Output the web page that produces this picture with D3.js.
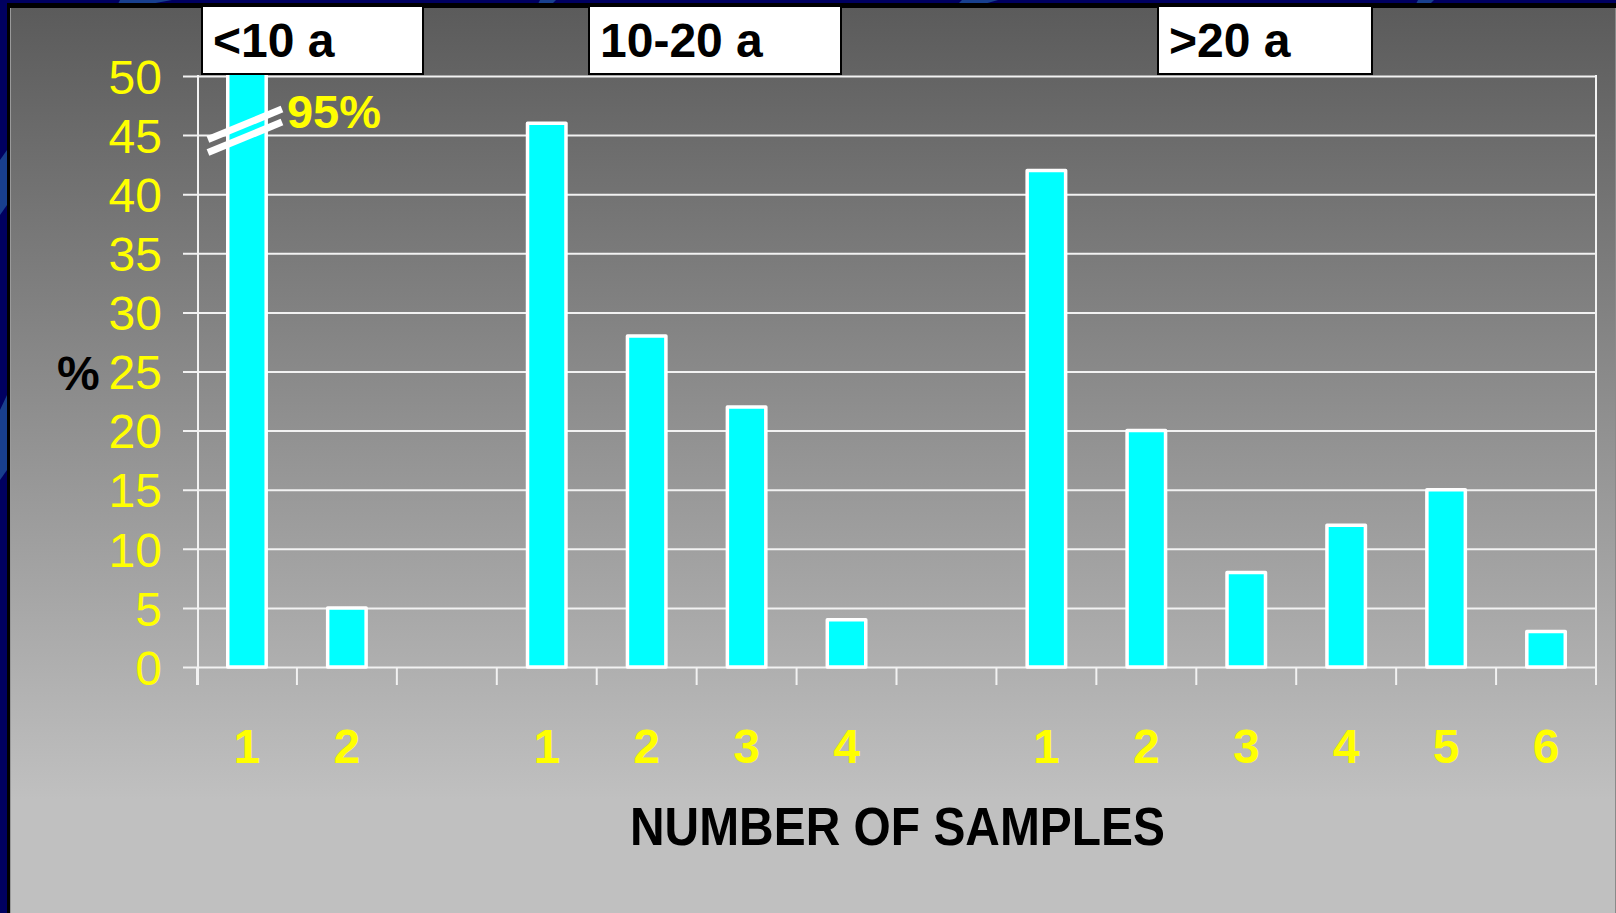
<!DOCTYPE html>
<html>
<head>
<meta charset="utf-8">
<script src="https://cdn.jsdelivr.net/npm/d3@7"></script>
<style>
  html, body { margin: 0; padding: 0; background: #000060; }
  svg { display: block; }
  text { font-family: "Liberation Sans", Arial, sans-serif; }
</style>
</head>
<body>
<svg id="chart" width="1616" height="913"></svg>
<script>
// Age groups shown in the header boxes
const groups = ["<10 a", "10-20 a", ">20 a"];
// Number of samples (x tick labels) in each group
const sampleCounts = [[1, 2], [1, 2, 3, 4], [1, 2, 3, 4, 5, 6]];
// Percentage of cases per number of samples
const percentValues = [[95, 5], [46, 28, 22, 4], [42, 20, 8, 12, 15, 3]];
// Y axis ticks and visible maximum
const yTicks = [0, 5, 10, 15, 20, 25, 30, 35, 40, 45, 50];
const yMax = 50;
const xTitle = "NUMBER OF SAMPLES";
const yTitle = "%";

// Header box layout (slide placement)
const headerBoxes = [
  { x: 202, w: 221 },
  { x: 589, w: 252 },
  { x: 1158, w: 214 }
];

const W = 1616, H = 913;
const plot = { left: 197, right: 1596, top: 76, bottom: 667 };

const svg = d3.select("#chart");
const defs = svg.append("defs");

// Slide background: navy frame with a grey gradient panel
const grad = defs.append("linearGradient")
  .attr("id", "panelGrad").attr("gradientUnits", "userSpaceOnUse")
  .attr("x1", 0).attr("y1", 8).attr("x2", 0).attr("y2", 800);
grad.append("stop").attr("offset", 0).attr("stop-color", "#5b5b5b");
grad.append("stop").attr("offset", 1).attr("stop-color", "#c0c0c0");

svg.append("rect").attr("width", W).attr("height", H).attr("fill", "#000060");
// decorative swooshes in the navy frame
const swooshes = [
  [[120, 0], [172, 0], [150, 4], [118, 4]],
  [[540, 0], [556, 0], [552, 4], [538, 4]],
  [[962, 0], [998, 0], [984, 4], [958, 4]],
  [[1418, 0], [1434, 0], [1430, 4], [1416, 4]],
  [[0, 160], [7, 150], [7, 205], [0, 215]],
  [[0, 410], [7, 395], [7, 470], [0, 480]]
];
svg.append("g").selectAll("path").data(swooshes).join("path")
  .attr("d", d => "M" + d.join("L") + "Z")
  .attr("fill", "#1c4a96").attr("opacity", 0.85);
svg.append("rect").attr("x", 7).attr("y", 3).attr("width", W - 7).attr("height", H - 3).attr("fill", "#000");
svg.append("rect").attr("x", 10).attr("y", 8).attr("width", W - 10).attr("height", H - 8).attr("fill", "url(#panelGrad)");
svg.append("line").attr("x1", 10.5).attr("x2", 10.5).attr("y1", 8).attr("y2", H)
  .attr("stroke", "#9a9a9a").attr("stroke-width", 1);
svg.append("line").attr("x1", W - 0.5).attr("x2", W - 0.5).attr("y1", 8).attr("y2", H)
  .attr("stroke", "#8a8a8a").attr("stroke-width", 1);

// Slots: bars of each group separated by an empty slot
const slots = [];
groups.forEach((g, gi) => {
  sampleCounts[gi].forEach((n, i) => slots.push({ key: g + "|" + n, group: g, label: n, value: percentValues[gi][i] }));
  if (gi < groups.length - 1) slots.push({ key: "gap" + gi, gap: true });
});

const x = d3.scaleBand().domain(slots.map(s => s.key)).range([plot.left, plot.right]).padding(0);
const y = d3.scaleLinear().domain([0, yMax]).range([plot.bottom, plot.top]);
const bw = x.bandwidth();
const gridColor = "#f2f2f2";

// Horizontal gridlines with y tick labels
const yAxis = d3.axisLeft(y).tickValues(yTicks).tickFormat(d3.format("d"))
  .tickSizeInner(-(plot.right - 183)).tickSizeOuter(0).tickPadding(21);
const gy = svg.append("g").attr("transform", "translate(183,0)").call(yAxis);
gy.select(".domain").remove();
gy.selectAll(".tick line").attr("stroke", gridColor).attr("stroke-width", 2);
gy.selectAll(".tick text")
  .attr("fill", "#ffff00").attr("font-size", 48).attr("font-weight", "normal")
  .attr("font-family", "'Liberation Sans', Arial, sans-serif")
  .attr("dy", "0.36em");

// Vertical axis line and right frame line
svg.append("line").attr("x1", plot.left + 1).attr("x2", plot.left + 1)
  .attr("y1", y(yMax) - 1).attr("y2", plot.bottom + 18)
  .attr("stroke", gridColor).attr("stroke-width", 2);
svg.append("line").attr("x1", plot.right).attr("x2", plot.right)
  .attr("y1", y(yMax) - 1).attr("y2", plot.bottom + 18)
  .attr("stroke", gridColor).attr("stroke-width", 2);

// X tick marks at slot boundaries
const boundaries = slots.map(s => x(s.key)).concat([plot.right]);
svg.append("g").selectAll("line").data(boundaries).join("line")
  .attr("x1", d => d).attr("x2", d => d)
  .attr("y1", y(0)).attr("y2", y(0) + 18)
  .attr("stroke", gridColor).attr("stroke-width", 2);

// Bars (clipped at the visible maximum)
defs.append("clipPath").attr("id", "plotClip").append("rect")
  .attr("x", plot.left - 10).attr("y", y(yMax) - 1.5)
  .attr("width", plot.right - plot.left + 20).attr("height", y(0) - y(yMax) + 10);

const barW = bw * 0.385;
const bars = slots.filter(s => !s.gap);
svg.append("g").attr("clip-path", "url(#plotClip)")
  .selectAll("rect").data(bars).join("rect")
  .attr("x", d => x(d.key) + (bw - barW) / 2)
  .attr("width", barW)
  .attr("y", d => y(d.value))
  .attr("height", d => y(0) - y(d.value))
  .attr("fill", "#00ffff")
  .attr("stroke", "#ffffff").attr("stroke-width", 3.5)
  .attr("stroke-linejoin", "round");

// Axis break marks and value label for the bar that exceeds the scale
const broken = bars.filter(d => d.value > yMax);
broken.forEach(d => {
  const cx = x(d.key) + bw / 2;
  const cy = y(45) - 4;
  [-6.5, 6.5].forEach(off => {
    svg.append("line")
      .attr("x1", cx - 39).attr("y1", cy + off + 15)
      .attr("x2", cx + 35).attr("y2", cy + off - 15.5)
      .attr("stroke", "#ffffff").attr("stroke-width", 7);
  });
  svg.append("text")
    .attr("x", cx + 40).attr("y", cy + 0.5 - 4)
    .attr("fill", "#ffff00").attr("font-size", 47).attr("font-weight", "bold")
    .text(d.value + "%");
});

// X tick labels
svg.append("g").selectAll("text").data(bars).join("text")
  .attr("x", d => x(d.key) + bw / 2)
  .attr("y", 763)
  .attr("text-anchor", "middle")
  .attr("fill", "#ffff00").attr("font-size", 48).attr("font-weight", "bold")
  .text(d => d.label);

// Axis titles
svg.append("text").attr("x", 57).attr("y", 390)
  .attr("fill", "#000").attr("font-size", 48).attr("font-weight", "bold")
  .text(yTitle);
svg.append("text").attr("x", 630).attr("y", 845)
  .attr("fill", "#000").attr("font-size", 54).attr("font-weight", "bold")
  .attr("textLength", 535).attr("lengthAdjust", "spacingAndGlyphs")
  .text(xTitle);

// Group header boxes
const hg = svg.append("g").selectAll("g").data(groups).join("g");
hg.append("rect")
  .attr("x", (d, i) => headerBoxes[i].x).attr("y", 6)
  .attr("width", (d, i) => headerBoxes[i].w).attr("height", 68)
  .attr("fill", "#ffffff").attr("stroke", "#000").attr("stroke-width", 2);
hg.append("text")
  .attr("x", (d, i) => headerBoxes[i].x + 11).attr("y", 57)
  .attr("fill", "#000").attr("font-size", 48).attr("font-weight", "bold")
  .text(d => d);
</script>
</body>
</html>
